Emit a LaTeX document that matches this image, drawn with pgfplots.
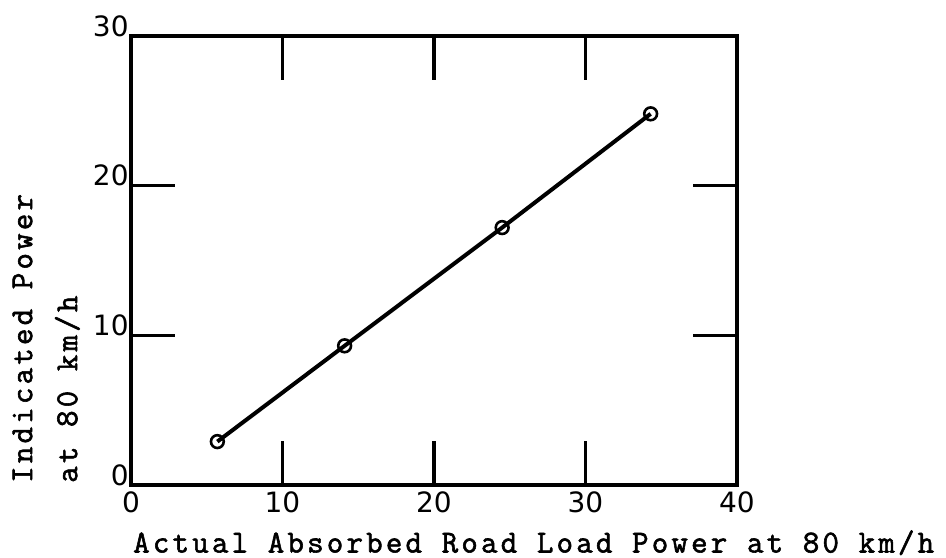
\documentclass[border=0pt]{standalone}
\usepackage{fontspec}
\usepackage{pgfplots}
\pgfplotsset{compat=1.18}
\newfontfamily\labfont[LetterSpace=10, FakeBold=1.8]{Latin Modern Mono}
\newfontfamily\tkfont{DejaVu Sans}
\begin{document}
\begin{tikzpicture}
\begin{axis}[
  scale only axis,
  width=303pt, height=224.5pt,
  xmin=0, xmax=40, ymin=0, ymax=30,
  xtick={0,10,20,30,40}, ytick={0,10,20,30},
  tick align=inside,
  major tick length=22pt,
  every tick/.style={black, line width=1.8pt},
  axis line style={line width=1.8pt},
  /pgf/number format/assume math mode=true,
  ticklabel style={font=\tkfont\fontsize{14}{14}\selectfont},
  xticklabel style={inner sep=2pt, yshift=-1pt},
  yticklabel style={inner sep=1pt, yshift=5pt},
  clip=false,
  xlabel={Actual Absorbed Road Load Power at 80 km/h},
  xlabel style={at={(axis description cs:0.003,-0.1)}, anchor=north west, inner sep=0pt, font=\labfont\fontsize{16}{16}\selectfont},
  ylabel={Indicated Power\\at 80 km/h},
  ylabel style={at={(axis description cs:-0.196,0.004)}, anchor=north west, inner sep=0pt, align=left, font=\labfont\fontsize{16}{22.5}\selectfont},
]
\addplot[black, line width=2pt, mark=o, mark size=3.2pt, mark options={line width=1.3pt, fill=white, solid}]
  coordinates {(5.7,2.9) (14.1,9.3) (24.5,17.2) (34.3,24.8)};
\coordinate (BL) at (rel axis cs:0,0);
\end{axis}
\pgfresetboundingbox
\path[shift={(BL)}] (-65.5pt,-36pt) rectangle ++(473pt,278.5pt);
\end{tikzpicture}
\end{document}
